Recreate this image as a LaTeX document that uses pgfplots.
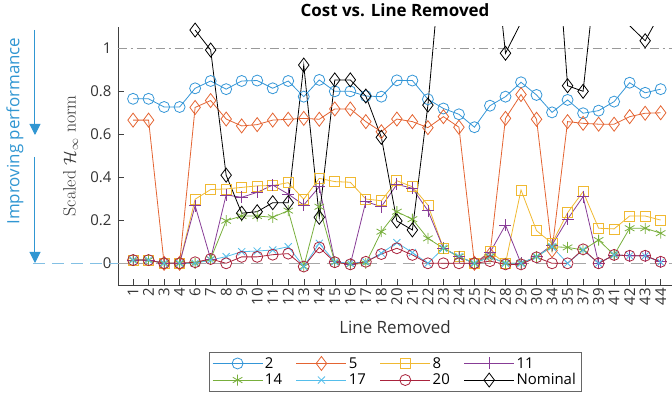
\documentclass[border=0pt]{standalone}
\usepackage{fontspec}
\setsansfont{Open Sans}
\usepackage{pgfplots}
\usepackage{pgfplotstable}
\pgfplotsset{compat=1.18}
\usetikzlibrary{arrows.meta}

\definecolor{cA}{RGB}{52,150,215}
\definecolor{cB}{RGB}{228,100,50}
\definecolor{cC}{RGB}{240,185,50}
\definecolor{cD}{RGB}{135,60,150}
\definecolor{cE}{RGB}{120,175,60}
\definecolor{cF}{RGB}{85,190,235}
\definecolor{cG}{RGB}{170,35,60}
\definecolor{arrowblue}{RGB}{48,150,210}

% idx = plot position, cat = line removed
\pgfplotstableread{
idx cat s2    s5    s8    s11   s14    s17    s20    nom
1   1   0.765 0.666 0.015 0.015 0.015  0.015  0.015  nan
2   2   0.765 0.666 0.015 0.015 0.015  0.015  0.015  nan
3   3   0.727 0     0     0     0      0      0      nan
4   4   0.727 0     0     0     0      0      0      nan
5   6   0.814 0.725 0.298 0.268 0.0    0.0    0.005  1.085
6   7   0.848 0.757 0.343 0.02  0.02   0.015  0.02   0.992
7   8   0.810 0.671 0.346 0.318 0.198  0.031  0.0    0.41
8   9   0.848 0.639 0.353 0.307 0.22   0.054  0.03   0.233
9   10  0.850 0.645 0.36  0.33  0.22   0.057  0.03   0.24
10  11  0.814 0.666 0.362 0.364 0.214  0.062  0.04   0.282
11  12  0.848 0.67  0.375 0.322 0.245  0.077  0.045  0.282
12  13  0.775 0.674 0.298 0.271 -0.015 -0.015 -0.015 0.922
13  14  0.853 0.67  0.395 0.356 0.263  0.093  0.074  0.214
14  15  0.800 0.718 0.38  0.008 0.005  0.007  0.005  0.853
15  16  0.800 0.718 0.377 -0.005 -0.005 0.0   -0.005 0.853
16  17  0.778 0.659 0.299 0.287 0.0    0.007  0.007  0.778
17  18  0.775 0.612 0.291 0.263 0.147  0.047  0.043  0.586
18  20  0.851 0.671 0.384 0.367 0.24   0.096  0.07   0.197
19  21  0.850 0.659 0.356 0.349 0.205  0.05   0.039  0.155
20  22  0.763 0.631 0.271 0.245 0.116  0.0    0.0    0.736
21  23  0.720 0.682 0.07  0.07  0.07   0.07   0.0    1.54
22  24  0.693 0.633 0.031 0.031 0.031  0.031  0.0    1.6
23  25  0.633 0.0   0.0   0.0   0.0    0.0    0.0    1.6
24  27  0.733 0.04  0.054 0.05  0.03   0.03   0.01   1.66
25  28  0.775 0.674 0.0   0.178 0.0    0.0    -0.005 0.977
26  29  0.842 0.785 0.341 0.0   0.0    0.0    -0.005 1.12
27  30  0.783 0.67  0.152 0.031 0.031  0.031  0.028  1.5
28  34  0.702 0.06  0.093 0.085 0.077  0.077  0.0    1.82
29  35  0.760 0.659 0.235 0.205 0.074  0.0    0.0    0.826
30  37  0.698 0.651 0.333 0.31  0.062  0.062  0.065  0.80
31  39  0.710 0.647 0.163 0.0   0.108  0.0    0.0    1.47
32  41  0.752 0.647 0.16  0.039 0.039  0.039  0.039  1.3
33  42  0.840 0.682 0.22  0.035 0.163  0.035  0.035  1.105
34  43  0.793 0.698 0.22  0.035 0.163  0.035  0.035  1.035
35  44  0.810 0.70  0.201 0.007 0.14   0.005  0.007  1.166
}\data

\begin{document}
\begin{tikzpicture}
\useasboundingbox (-118bp,-124.2bp) rectangle (554bp,284.8bp);
\begin{axis}[
    scale only axis,
    width=554bp, height=258bp,
    xmin=0.03, xmax=35.73,
    ymin=-0.1, ymax=1.1,
    axis x line*=bottom, axis y line*=left,
    axis line style={-, black!75},
    tick align=inside,
    major tick length=6bp,
    tick style={black!75, line width=0.5bp},
    xtick={1,...,35},
    xticklabels={1,2,3,4,6,7,8,9,10,11,12,13,14,15,16,17,18,20,21,22,23,24,25,27,28,29,30,34,35,37,39,41,42,43,44},
    xticklabel style={rotate=90, anchor=east, font=\sffamily\fontsize{15}{17}\selectfont, text=black!80},
    ytick={0,0.2,0.4,0.6,0.8,1},
    yticklabels={0,0.2,0.4,0.6,0.8,1},
    yticklabel style={font=\sffamily\fontsize{15}{17}\selectfont, text=black!80, xshift=-3bp},
    /pgf/number format/assume math mode=true,
    xlabel={Line Removed},
    xlabel style={font=\sffamily\fontsize{17}{20}\selectfont, text=black!80, at={(axis description cs:0.5,-0.187)}, anchor=base},
    ylabel={Scaled $\mathcal{H}_\infty$ norm},
    ylabel style={font=\fontsize{18}{20}\selectfont, text=black!80, at={(axis description cs:-0.0857,0.5)}, anchor=center},
    unbounded coords=jump,
    every axis plot/.append style={line width=0.8bp},
    legend columns=4,
    legend cell align=left,
    legend style={at={(axis description cs:0.5,-0.2605)}, anchor=north,
        font=\sffamily\fontsize{15}{17}\selectfont, draw=black!60, line width=0.6bp,
        inner xsep=3bp, inner ysep=3bp,
        /tikz/every even column/.append style={column sep=12bp}},
    legend image code/.code={\draw[mark repeat=2, mark phase=2] plot coordinates {(0bp,0bp) (25bp,0bp) (50bp,0bp)};},
]
\addplot[forget plot, gray!80, line width=0.9bp, dash pattern=on 9bp off 4bp on 2bp off 4bp] coordinates {(0,1) (36,1)};
\addplot[forget plot, gray!70, line width=0.9bp, dash pattern=on 12bp off 7bp] coordinates {(0,0) (36,0)};
\addplot[cA, mark=o, mark size=5.5bp] table[x=idx, y=s2] {\data};
\addlegendentry{2}
\addplot[cB, mark=diamond, mark size=7bp] table[x=idx, y=s5] {\data};
\addlegendentry{5}
\addplot[cC, mark=square, mark size=5bp] table[x=idx, y=s8] {\data};
\addlegendentry{8}
\addplot[cD, mark=+, mark size=6bp] table[x=idx, y=s11] {\data};
\addlegendentry{11}
\addplot[cE, mark=asterisk, mark size=5.5bp] table[x=idx, y=s14] {\data};
\addlegendentry{14}
\addplot[cF, mark=x, mark size=5bp] table[x=idx, y=s17] {\data};
\addlegendentry{17}
\addplot[cG, mark=o, mark size=5.5bp] table[x=idx, y=s20] {\data};
\addlegendentry{20}
\addplot[black, mark=diamond, mark size=7bp] table[x=idx, y=nom] {\data};
\addlegendentry{Nominal}
\end{axis}
% title and annotation left of the axis
\node[anchor=base, font=\sffamily\bfseries\fontsize{17}{20}\selectfont] at (277bp,268.5bp) {Cost vs. Line Removed};
\draw[arrowblue!60, line width=0.9bp, dash pattern=on 12bp off 7bp] (-85bp,21.5bp) -- (0bp,21.5bp);
\draw[arrowblue, line width=1bp, -{Triangle[width=11bp,length=11bp]}] (-83bp,254.8bp) -- (-83bp,149.8bp);
\draw[arrowblue, line width=1bp, -{Triangle[width=11bp,length=11bp]}] (-83bp,127.8bp) -- (-83bp,21.8bp);
\node[rotate=90, text=arrowblue, font=\sffamily\fontsize{17}{20}\selectfont] at (-103bp,153.8bp) {Improving performance};
\end{tikzpicture}
\end{document}
